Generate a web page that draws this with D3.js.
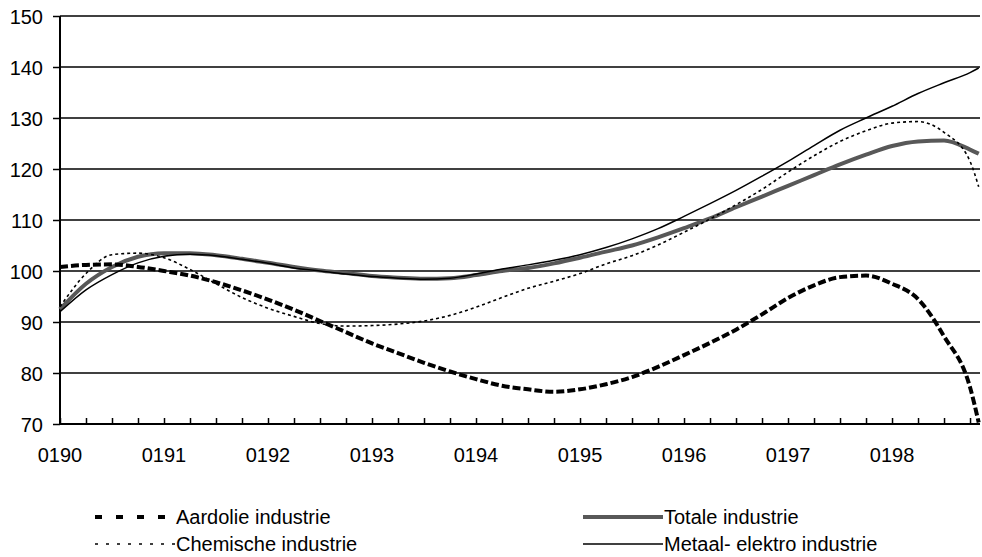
<!DOCTYPE html>
<html>
<head>
<meta charset="utf-8">
<title>Industrie index</title>
<script src="https://cdn.jsdelivr.net/npm/d3@7"></script>
<style>
    body { margin: 0; background: #fff; }
    text { font-family: "Liberation Sans", Arial, sans-serif; font-size: 20px; fill: #000; }
</style>
</head>
<body>
<script>
//chart data (one value per quarter, last value is the end month)
var months = [0, 3, 6, 9, 12, 15, 18, 21, 24, 27, 30, 33, 36, 39, 42, 45, 48, 51,
    54, 57, 60, 63, 66, 69, 72, 75, 78, 81, 84, 87, 90, 93, 96, 99, 102, 105, 106];

var aardolie = [100.8, 101.2, 101.3, 100.8, 100.0, 99.1, 97.8, 96.2, 94.4, 92.4, 90.2, 88.0,
    85.8, 83.9, 82.0, 80.3, 78.8, 77.5, 76.8, 76.3, 76.8, 77.8, 79.2, 81.2, 83.5, 85.9,
    88.5, 91.5, 94.7, 97.2, 98.8, 99.1, 97.5, 94.5, 87.2, 77.2, 70.3];

var chemische = [93.0, 99.5, 103.2, 103.5, 102.6, 100.3, 97.5, 94.8, 92.7, 91.1, 89.7, 89.2,
    89.3, 89.6, 90.2, 91.3, 92.9, 94.8, 96.6, 98.0, 99.5, 101.4, 103.0, 105.1, 107.6, 110.2,
    113.0, 116.0, 119.4, 122.6, 125.4, 127.5, 129.0, 129.3, 127.2, 121.5, 116.5];

var totale = [92.5, 97.5, 100.8, 102.8, 103.5, 103.5, 103.1, 102.4, 101.6, 100.8, 100.1, 99.6,
    99.0, 98.7, 98.5, 98.6, 99.2, 100.0, 100.6, 101.5, 102.6, 103.8, 105.0, 106.6, 108.4, 110.3,
    112.5, 114.6, 116.7, 118.8, 120.9, 122.8, 124.5, 125.4, 125.6, 123.8, 123.0];

var metaal = [92.0, 96.3, 99.3, 101.6, 102.9, 103.3, 103.0, 102.3, 101.5, 100.6, 100.0, 99.4,
    98.9, 98.6, 98.4, 98.6, 99.4, 100.4, 101.2, 102.1, 103.2, 104.6, 106.3, 108.3, 110.7, 113.2,
    115.8, 118.6, 121.5, 124.6, 127.6, 130.0, 132.3, 134.8, 136.9, 138.9, 139.8];

var yTicks = [70, 80, 90, 100, 110, 120, 130, 140, 150];
var xTickLabels = ["0190", "0191", "0192", "0193", "0194", "0195", "0196", "0197", "0198"];

//legend rows
var legendNames = ["Aardolie industrie", "Chemische industrie", "Totale industrie", "Metaal- elektro industrie"];

(function(){

window.onload = setChart();

function setChart(){
    //frame dimensions
    var width = 982,
        height = 557;

    var svg = d3.select("body")
        .append("svg")
        .attr("width", width)
        .attr("height", height);

    //scales, month index on x
    var x = d3.scaleLinear()
        .domain([0, 106])
        .range([60, 978.7]);

    var y = d3.scaleLinear()
        .domain([70, 150])
        .range([424, 16]);

    setGrid(svg, x, y);
    setAxes(svg, x, y);

    //series styles
    var series = [
        {name: legendNames[2], values: totale, stroke: "#585858", width: 4, dash: null},
        {name: legendNames[3], values: metaal, stroke: "#000", width: 1.5, dash: null},
        {name: legendNames[0], values: aardolie, stroke: "#000", width: 4, dash: "8,3"},
        {name: legendNames[1], values: chemische, stroke: "#000", width: 1.6, dash: "3,3"}
    ];

    var line = d3.line()
        .x(function(d, i){ return x(months[i]); })
        .y(function(d){ return y(d); })
        .curve(d3.curveMonotoneX);

    svg.selectAll(".series")
        .data(series)
        .enter()
        .append("path")
        .attr("class", "series")
        .attr("fill", "none")
        .attr("stroke", function(d){ return d.stroke; })
        .attr("stroke-width", function(d){ return d.width; })
        .attr("stroke-dasharray", function(d){ return d.dash; })
        .attr("d", function(d){ return line(d.values); });

    setLegend(svg);
};

function setGrid(svg, x, y){
    //horizontal gridlines
    svg.selectAll(".grid")
        .data(yTicks.slice(1))
        .enter()
        .append("line")
        .attr("class", "grid")
        .attr("x1", 60)
        .attr("x2", 980)
        .attr("y1", function(d){ return y(d); })
        .attr("y2", function(d){ return y(d); })
        .attr("stroke", "#000")
        .attr("stroke-width", 1.5);
};

function setAxes(svg, x, y){
    //y axis with outer ticks
    var yAxis = d3.axisLeft(y)
        .tickValues(yTicks)
        .tickSize(7)
        .tickPadding(10)
        .tickFormat(d3.format("d"));

    var gy = svg.append("g")
        .attr("transform", "translate(60,0)")
        .call(yAxis);
    gy.select(".domain").attr("stroke-width", 2).attr("d", "M0,16V424");
    gy.selectAll(".tick line").attr("stroke-width", 1.5);
    gy.selectAll("text").style("font-size", "20px").attr("dy", "0.35em");

    //x axis, small ticks every quarter pointing up
    var xAxis = d3.axisBottom(x)
        .tickValues(d3.range(0, 106, 3))
        .tickSize(-6)
        .tickFormat("");

    var gx = svg.append("g")
        .attr("transform", "translate(0,424)")
        .call(xAxis);
    gx.select(".domain").attr("stroke-width", 2).attr("d", "M59,0H980");
    gx.selectAll(".tick line").attr("stroke-width", 1.5);

    //year labels
    svg.selectAll(".xlabel")
        .data(xTickLabels)
        .enter()
        .append("text")
        .attr("class", "xlabel")
        .attr("x", function(d, i){ return x(i * 12); })
        .attr("y", 462)
        .attr("text-anchor", "middle")
        .text(function(d){ return d; });
};

function setLegend(svg){
    var items = [
        {name: legendNames[0], x: 95, y: 517, stroke: "#000", width: 4, dash: "7,14"},
        {name: legendNames[1], x: 95, y: 544, stroke: "#000", width: 1.6, dash: "3,8"},
        {name: legendNames[2], x: 583, y: 517, stroke: "#585858", width: 4, dash: null},
        {name: legendNames[3], x: 583, y: 544, stroke: "#000", width: 1.5, dash: null}
    ];

    var g = svg.selectAll(".legend")
        .data(items)
        .enter()
        .append("g")
        .attr("class", "legend");

    g.append("line")
        .attr("x1", function(d){ return d.x; })
        .attr("x2", function(d){ return d.x + 80; })
        .attr("y1", function(d){ return d.y; })
        .attr("y2", function(d){ return d.y; })
        .attr("stroke", function(d){ return d.stroke; })
        .attr("stroke-width", function(d){ return d.width; })
        .attr("stroke-dasharray", function(d){ return d.dash; });

    g.append("text")
        .attr("x", function(d){ return d.x + 81; })
        .attr("y", function(d){ return d.y; })
        .attr("dy", "0.35em")
        .text(function(d){ return d.name; });
};

})();
</script>
</body>
</html>
